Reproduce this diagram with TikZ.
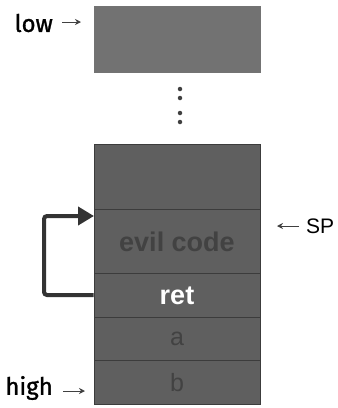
\documentclass[tikz,border=0pt]{standalone}
\usepackage{fontspec}
\setmainfont{Liberation Sans}
\newfontfamily\handfont[FakeBold=1.2]{Fira Sans}
\usetikzlibrary{arrows.meta}
\definecolor{cellfill}{HTML}{5F5F5F}
\definecolor{topfill}{HTML}{727272}
\definecolor{cellline}{HTML}{3C3C3C}
\definecolor{dimtext}{HTML}{424242}
\definecolor{loopcol}{HTML}{333333}
\tikzset{
  cell/.style={draw=cellline, line width=0.8pt, fill=cellfill, minimum width=166pt, inner sep=0pt, anchor=north},
  dimlabel/.style={text=dimtext, font=\fontsize{25}{25}\selectfont},
  boldlabel/.style={font=\bfseries\fontsize{27}{27}\selectfont},
  sidelabel/.style={font=\handfont\fontsize{24}{24}\selectfont, anchor=east, inner sep=0pt},
  thinarrow/.style={-{Stealth[length=6pt,width=6pt]}, line width=1pt, draw=black!75}
}
\begin{document}
\begin{tikzpicture}[x=1pt,y=-1pt]
\useasboundingbox (0,0) rectangle (338,408);
% top box
\node[cell, fill=topfill, draw=black!55, minimum height=66pt] (topbox) at (177,6) {};
% dots
\foreach \yy/\nm in {89/d1,98/d2,113/d3,122/d4}
  \node[circle, fill=black!75, inner sep=0pt, minimum size=4.5pt] (\nm) at (180,\yy) {};
% stack
\node[cell, minimum height=65pt] (c0) at (177,144) {};
\node[cell, minimum height=64pt, text=dimtext, boldlabel] (evil) at (177,209) {evil code};
\node[cell, minimum height=44pt, text=white, boldlabel] (ret) at (177,273) {ret};
\node[cell, minimum height=43pt, dimlabel] (a) at (177,317) {a};
\node[cell, minimum height=44pt, dimlabel] (b) at (177,360) {b};
% loop arrow
\coordinate (lc1) at (44,295);
\coordinate (lc2) at (44,216);
\coordinate (tip) at (94,216);
\draw[loopcol, line width=4pt, rounded corners=3pt, -{Triangle[length=16pt,width=18pt]}]
  (ret.west |- lc1) -- (lc1) -- (lc2) -- (tip);
% side labels
\node[sidelabel] (low) at (53,23) {low};
\coordinate (lowa) at (62,22);
\coordinate (lowb) at (81,22);
\draw[thinarrow] (lowa) -- (lowb);
\node[sidelabel] (high) at (53,388) {high};
\coordinate (higha) at (63,391);
\coordinate (highb) at (85,391);
\draw[thinarrow] (higha) -- (highb);
\node[font=\fontsize{21}{21}\selectfont, anchor=west, inner sep=0pt] (sp) at (306,226) {SP};
\coordinate (spa) at (299,226);
\coordinate (spb) at (277,226);
\draw[thinarrow] (spa) -- (spb);
\end{tikzpicture}
\end{document}
